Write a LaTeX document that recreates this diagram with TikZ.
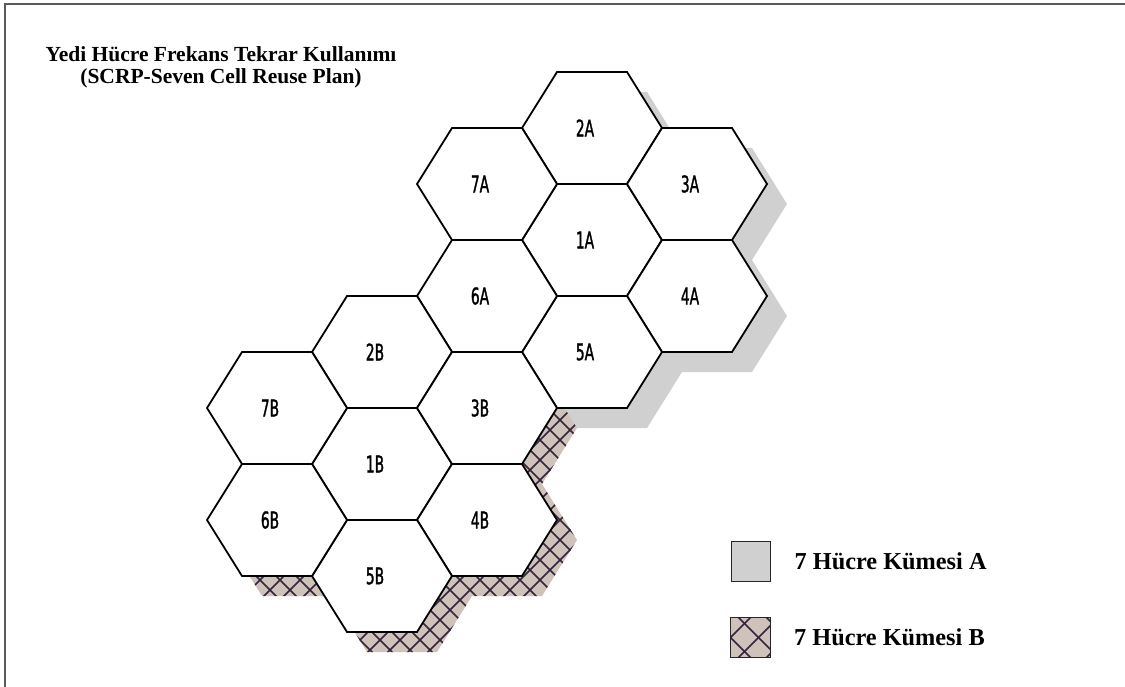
\documentclass[tikz,border=0pt]{standalone}
\usepackage{fontspec}
\setmainfont{Liberation Serif}
\newfontfamily\cellfont[FakeStretch=0.6, FakeBold=1.3]{DejaVu Sans}
\usetikzlibrary{positioning}
\definecolor{shadegray}{HTML}{D0D0D0}
\definecolor{hatchbg}{HTML}{CEC2BA}
\definecolor{hatchink}{HTML}{33243A}
\definecolor{framegray}{HTML}{5A5A5A}
\newcommand{\cellsA}{1A/592/240, 2A/592/128, 3A/697/184, 4A/697/296, 5A/592/352, 6A/487/296, 7A/487/184}
\newcommand{\cellsB}{1B/382/464, 2B/382/352, 3B/487/408, 4B/487/520, 5B/382/576, 6B/277/520, 7B/277/408}

\begin{document}
\begin{tikzpicture}[x=1pt, y=-1pt,
  cell/.style={draw=black, line width=1.8pt, fill=white},
  celltext/.style={font=\cellfont\fontsize{23}{23}\selectfont, inner sep=0pt},
  hatched/.style={fill=hatchbg, path picture={
    \foreach \c in {520,540,...,1460} {\draw[hatchink, line width=1.6pt] (\c-200,200) -- (\c-800,800);}
    \foreach \c in {-460,-440,...,320} {\draw[hatchink, line width=1.6pt] (\c+200,200) -- (\c+800,800);}
  }},
  keyhatch/.style={fill=hatchbg, path picture={
    \foreach \c in {-56,-28,...,56} {
      \draw[hatchink, line width=1.6pt] (\c+8+40,-40) -- (\c+8-40,40);
      \draw[hatchink, line width=1.6pt] (\c+8-40,-40) -- (\c+8+40,40);
    }
  }},
  keybox/.style={draw=black!85, line width=1.4pt, minimum size=39.5pt, inner sep=0pt},
  keytext/.style={font=\bfseries\fontsize{24.3}{25}\selectfont, inner sep=0pt, anchor=west},
  titletext/.style={font=\bfseries\fontsize{21.5}{22}\selectfont, inner sep=0pt, anchor=base}]
  \useasboundingbox (0,0) rectangle (1125,687);

  % frame
  \draw[framegray, line width=2pt] (5.3,687) -- (5.3,3.7) -- (1125,3.7);

  % shadows of both clusters
  \fill[shadegray] \foreach \n/\cx/\cy in \cellsA {
    (\cx-50,\cy+20) -- ++(35,-56) -- ++(70,0) -- ++(35,56) -- ++(-35,56) -- ++(-70,0) -- cycle };
  \path[hatched] \foreach \n/\cx/\cy in \cellsB {
    (\cx-50,\cy+20) -- ++(35,-56) -- ++(70,0) -- ++(35,56) -- ++(-35,56) -- ++(-70,0) -- cycle };

  % 7 cell clusters
  \foreach \n/\cx/\cy in \cellsA {
    \draw[cell] (\cx-70,\cy) -- ++(35,-56) -- ++(70,0) -- ++(35,56) -- ++(-35,56) -- ++(-70,0) -- cycle;
    \node[celltext] (cell\n) at (\cx-7,\cy) {\n};
  }
  \foreach \n/\cx/\cy in \cellsB {
    \draw[cell] (\cx-70,\cy) -- ++(35,-56) -- ++(70,0) -- ++(35,56) -- ++(-35,56) -- ++(-70,0) -- cycle;
    \node[celltext] (cell\n) at (\cx-7,\cy) {\n};
  }

  % title
  \node[titletext] (title) at (221,62) {Yedi Hücre Frekans Tekrar Kullanımı};
  \node[titletext] (subtitle) at (221,84) {(SCRP-Seven Cell Reuse Plan)};

  % legend
  \node[keybox, fill=shadegray] (keyA) at (751,561.5) {};
  \node[keytext, right=23pt of keyA] (keyAtext) {7 Hücre Kümesi A};
  \node[keybox, keyhatch] (keyB) at (750.5,637.5) {};
  \node[keytext, right=23pt of keyB] (keyBtext) {7 Hücre Kümesi B};
\end{tikzpicture}
\end{document}
